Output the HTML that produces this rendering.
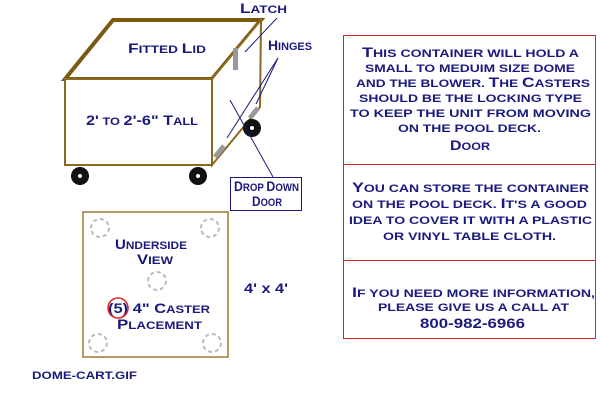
<!DOCTYPE html>
<html><head><style>
body{margin:0;width:600px;height:400px;background:#fff;overflow:hidden;}
svg text{font-family:"Liberation Sans",sans-serif;font-weight:bold;fill:#1a1a7e;font-size:11px;}
svg tspan.c{font-size:14px;}
</style></head><body>
<svg width="600" height="400" viewBox="0 0 600 400">
<!-- cart -->
<polygon points="65,79 113,20 261,20 212,79" fill="#fff" stroke="#7a5a10" stroke-width="4"/>
<rect x="65" y="79" width="147" height="86" fill="#fff" stroke="#8a6a20" stroke-width="2"/>
<polygon points="212,79 261,20 260,107 212,165" fill="#fff" stroke="#8a6a20" stroke-width="2"/>
<rect x="233" y="48" width="5" height="22" fill="#999"/>
<line x1="215" y1="157" x2="224" y2="146" stroke="#999" stroke-width="5"/>
<line x1="250" y1="118" x2="258" y2="108" stroke="#999" stroke-width="5"/>
<circle cx="80" cy="176" r="9" fill="#111"/><circle cx="80" cy="176" r="2" fill="#fff"/>
<circle cx="198" cy="176" r="9" fill="#111"/><circle cx="198" cy="176" r="2" fill="#fff"/>
<circle cx="252" cy="128" r="9" fill="#111"/><circle cx="252" cy="128" r="2" fill="#fff"/>
<text x="128" y="53" textLength="78" lengthAdjust="spacingAndGlyphs"><tspan class="c">F</tspan>ITTED <tspan class="c">L</tspan>ID</text>
<text x="86" y="125" textLength="112" lengthAdjust="spacingAndGlyphs"><tspan class="c">2'</tspan> TO <tspan class="c">2'-6" T</tspan>ALL</text>
<text x="240" y="13" textLength="47" lengthAdjust="spacingAndGlyphs"><tspan class="c">L</tspan>ATCH</text>
<text x="268" y="50" textLength="44" lengthAdjust="spacingAndGlyphs"><tspan class="c">H</tspan>INGES</text>
<line x1="245" y1="52" x2="277" y2="18" stroke="#1a1a7e"/>
<line x1="278" y1="58" x2="227" y2="138" stroke="#1a1a7e"/>
<line x1="278" y1="58" x2="256" y2="104" stroke="#1a1a7e"/>
<line x1="230" y1="100" x2="273" y2="177" stroke="#1a1a7e"/>
<rect x="230.5" y="177.5" width="71" height="33" fill="#fff" stroke="#1a1a7e"/>
<text x="234" y="191" textLength="65" lengthAdjust="spacingAndGlyphs"><tspan class="c">D</tspan>ROP <tspan class="c">D</tspan>OWN</text>
<text x="252" y="206" textLength="30" lengthAdjust="spacingAndGlyphs"><tspan class="c">D</tspan>OOR</text>
<!-- underside -->
<rect x="83" y="212" width="145" height="145" fill="#fff" stroke="#9a7a30" stroke-width="1.5"/>
<g fill="none" stroke="#bbb" stroke-width="2" stroke-dasharray="4,3">
<circle cx="100" cy="228" r="9"/><circle cx="210" cy="228" r="9"/>
<circle cx="157" cy="281" r="9"/><circle cx="98" cy="343" r="9"/><circle cx="212" cy="343" r="9"/>
</g>
<text x="115" y="249" textLength="72" lengthAdjust="spacingAndGlyphs"><tspan class="c">U</tspan>NDERSIDE</text>
<text x="137" y="264" textLength="36" lengthAdjust="spacingAndGlyphs"><tspan class="c">V</tspan>IEW</text>
<text x="108" y="313" textLength="102" lengthAdjust="spacingAndGlyphs"><tspan class="c">(5) 4" C</tspan>ASTER</text>
<text x="117" y="329" textLength="85" lengthAdjust="spacingAndGlyphs"><tspan class="c">P</tspan>LACEMENT</text>
<circle cx="118" cy="308" r="10" fill="none" stroke="#d22" stroke-width="1.5"/>
<text x="244" y="293" textLength="44" lengthAdjust="spacingAndGlyphs" style="font-size:14px">4' x 4'</text>
<text x="32" y="379" textLength="105" lengthAdjust="spacingAndGlyphs" style="font-size:11px">DOME-CART.GIF</text>
<!-- panel -->
<rect x="343.5" y="35.5" width="252" height="303" fill="#fff" stroke="#d22"/>
<line x1="343" y1="164.5" x2="596" y2="164.5" stroke="#d22"/>
<line x1="343" y1="260.5" x2="596" y2="260.5" stroke="#d22"/>
<g>
<text x="362" y="57" textLength="217" lengthAdjust="spacingAndGlyphs"><tspan class="c">T</tspan>HIS CONTAINER WILL HOLD A</text>
<text x="365" y="72" textLength="210" lengthAdjust="spacingAndGlyphs">SMALL TO MEDUIM SIZE DOME</text>
<text x="356" y="87" textLength="234" lengthAdjust="spacingAndGlyphs">AND THE BLOWER. <tspan class="c">T</tspan>HE <tspan class="c">C</tspan>ASTERS</text>
<text x="359" y="102" textLength="223" lengthAdjust="spacingAndGlyphs">SHOULD BE THE LOCKING TYPE</text>
<text x="350" y="117" textLength="241" lengthAdjust="spacingAndGlyphs">TO KEEP THE UNIT  FROM MOVING</text>
<text x="398" y="132" textLength="143" lengthAdjust="spacingAndGlyphs">ON THE POOL DECK.</text>
<text x="450" y="150" textLength="40" lengthAdjust="spacingAndGlyphs"><tspan class="c">D</tspan>OOR</text>
<text x="352" y="192" textLength="237" lengthAdjust="spacingAndGlyphs"><tspan class="c">Y</tspan>OU CAN STORE THE CONTAINER</text>
<text x="352" y="208" textLength="235" lengthAdjust="spacingAndGlyphs">ON THE POOL DECK. <tspan class="c">I</tspan>T'S A GOOD</text>
<text x="349" y="224" textLength="243" lengthAdjust="spacingAndGlyphs">IDEA TO COVER IT WITH A PLASTIC</text>
<text x="383" y="240" textLength="173" lengthAdjust="spacingAndGlyphs">OR VINYL TABLE CLOTH.</text>
<text x="352" y="297" textLength="243" lengthAdjust="spacingAndGlyphs"><tspan class="c">I</tspan>F YOU NEED MORE INFORMATION,</text>
<text x="378" y="311" textLength="191" lengthAdjust="spacingAndGlyphs">PLEASE GIVE US A CALL AT</text>
<text x="420" y="328" textLength="105" lengthAdjust="spacingAndGlyphs" style="font-size:14px">800-982-6966</text>
</g>
</svg>
</body></html>
